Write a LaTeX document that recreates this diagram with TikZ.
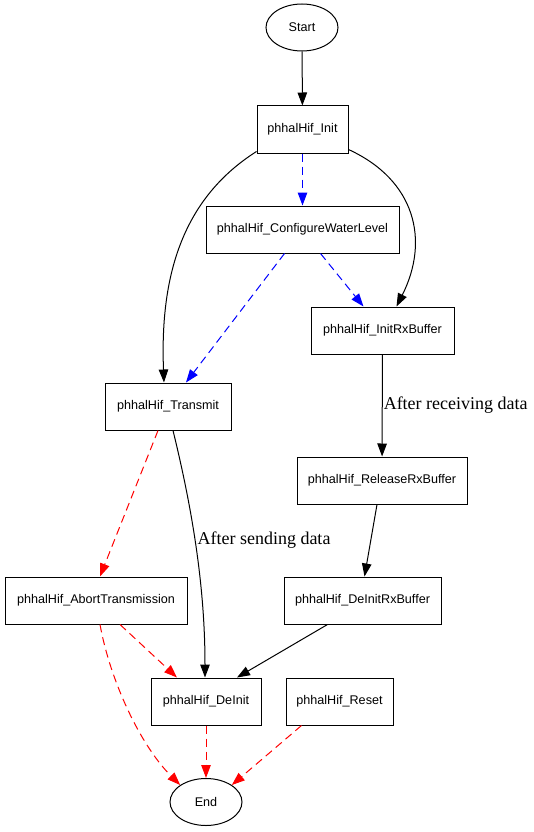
\documentclass[tikz,border=0pt]{standalone}
\usepackage{fontspec}
\setmainfont{Liberation Serif}
\newfontfamily\arialfont{Liberation Sans}
\usetikzlibrary{shapes.geometric,arrows.meta}
\begin{document}
\begin{tikzpicture}[x=1pt,y=-1pt,
  box/.style={draw=black,line width=1pt,rectangle,inner sep=0pt,minimum height=47pt,font=\arialfont\fontsize{12.6}{14}\selectfont},
  oval/.style={draw=black,line width=1pt,ellipse,inner sep=0pt,minimum width=72pt,minimum height=47pt,font=\arialfont\fontsize{12.6}{14}\selectfont},
  edge/.style={line width=1pt,-{Triangle[length=13pt,width=9.5pt]}},
  blk/.style={edge,draw=black},
  bdash/.style={edge,draw=blue,dash pattern=on 8pt off 5pt},
  rdash/.style={edge,draw=red,dash pattern=on 8pt off 5pt},
  lbl/.style={font=\fontsize{18}{20}\selectfont,inner sep=0pt}
]
\useasboundingbox (0,0) rectangle (533,832);
\node[oval] (start) at (302,27.5) {Start};
\node[box,minimum width=91pt] (init) at (302.5,129.5) {phhalHif\_Init};
\node[box,minimum width=193pt] (cwl) at (302.5,229.5) {phhalHif\_ConfigureWaterLevel};
\node[box,minimum width=143pt] (initrx) at (382.5,330.5) {phhalHif\_InitRxBuffer};
\node[box,minimum width=126pt] (tx) at (168,406.5) {phhalHif\_Transmit};
\node[box,minimum width=170pt] (rel) at (382,480.5) {phhalHif\_ReleaseRxBuffer};
\node[box,minimum width=182pt] (abort) at (96,600.5) {phhalHif\_AbortTransmission};
\node[box,minimum width=157pt] (deinitrx) at (362.5,600.5) {phhalHif\_DeInitRxBuffer};
\node[box,minimum width=110pt] (deinit) at (206,701.5) {phhalHif\_DeInit};
\node[box,minimum width=107pt] (reset) at (339.5,701.5) {phhalHif\_Reset};
\node[oval] (end) at (206,802) {End};

\draw[blk] (start) -- (init);
\draw[bdash] (init) -- (cwl);
\draw[blk] ([yshift=2pt]init.south west) .. controls (180,200) and (160,280) .. ([xshift=-4pt]tx.north);
\draw[blk] ([yshift=4pt]init.south east) .. controls (415,180) and (430,240) .. ([xshift=14pt]initrx.north);
\draw[bdash] ([xshift=18pt]cwl.south) -- ([xshift=-19pt]initrx.north);
\draw[bdash] ([xshift=-18pt]cwl.south) -- ([xshift=18pt]tx.north);
\draw[blk] (initrx) -- (rel) node[lbl,midway,right=1pt] {After receiving data};
\draw[blk] ([xshift=-5pt]rel.south) -- ([xshift=2pt]deinitrx.north);
\draw[rdash] ([xshift=-10pt]tx.south) -- ([xshift=4pt]abort.north);
\draw[blk] ([xshift=5pt]tx.south) .. controls (190,500) and (205,580) .. ([xshift=-1pt]deinit.north);
\node[lbl] (lsend) at (264,540) {After sending data};
\draw[blk] ([xshift=-35pt]deinitrx.south) -- ([xshift=31pt]deinit.north);
\draw[rdash] ([xshift=24pt]abort.south) -- ([xshift=-29pt]deinit.north);
\draw[rdash] ([xshift=4pt]abort.south) .. controls (110,680) and (140,745) .. (end.north west);
\draw[rdash] (deinit) -- (end);
\draw[rdash] ([xshift=-38pt]reset.south) -- (end.north east);
\end{tikzpicture}
\end{document}
